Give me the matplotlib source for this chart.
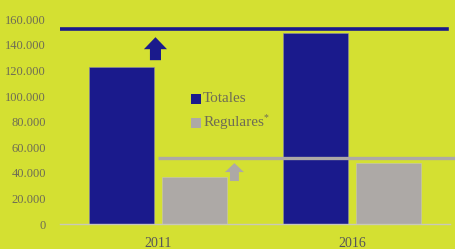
import matplotlib
matplotlib.use('Agg')
import matplotlib.pyplot as plt
from matplotlib.patches import FancyArrow

years = ['2011', '2016']
totales = [122600, 149000]
regulares = [37000, 48000]
ref_totales = 152300      # blue reference line
ref_regulares = 51500     # grey reference line
yticks = [0, 20000, 40000, 60000, 80000, 100000, 120000, 140000, 160000]
ytick_labels = ['0', '20.000', '40.000', '60.000', '80.000', '100.000',
                '120.000', '140.000', '160.000']

BG = '#D4E032'
BLUE = '#1A1A8C'
GREY = '#ADA9A6'
TXT = '#6E6C55'

plt.rcParams['font.family'] = ['Liberation Serif', 'DejaVu Serif']

fig = plt.figure(figsize=(4.56, 2.49), dpi=100, facecolor=BG)
ax = fig.add_axes([60/456, 25/249, 390/456, 204.6/249], facecolor=BG)

x = range(len(years))
w = 0.335
ax.bar([i - 0.188 for i in x], totales, w, color=BLUE, edgecolor='#8f8fa8', lw=0.4)
ax.bar([i + 0.188 for i in x], regulares, w, color=GREY, edgecolor='#c8c6b8', lw=0.4)

ax.axhline(ref_totales, xmin=0, xmax=0.992, color=BLUE, lw=2.6)
ax.hlines(ref_regulares, 0, 1.56, color=GREY, lw=2.4, clip_on=False)

# up arrows
ax.add_patch(FancyArrow(-0.013, 128100, 0, 18000, width=0.057, head_width=0.119,
                        head_length=9400, length_includes_head=True,
                        color=BLUE, lw=0))
ax.add_patch(FancyArrow(0.394, 33600, 0, 14000, width=0.046, head_width=0.098,
                        head_length=7000, length_includes_head=True,
                        color=GREY, lw=0))

# legend drawn by hand
ax.scatter([0.349], [0.611], marker='s', s=42, color=BLUE, transform=ax.transAxes,
           clip_on=False, lw=0, zorder=3)
ax.scatter([0.349], [0.494], marker='s', s=42, color=GREY, transform=ax.transAxes,
           clip_on=False, lw=0, zorder=3)
ax.text(0.367, 0.611, 'Totales', transform=ax.transAxes, fontsize=11,
        color=TXT, va='center', ha='left')
ax.text(0.367, 0.494, 'Regulares', transform=ax.transAxes, fontsize=11,
        color=TXT, va='center', ha='left')
ax.text(0.521, 0.522, '*', transform=ax.transAxes, fontsize=7,
        color=TXT, va='center', ha='left')

ax.set_xlim(-0.505, 1.505)
ax.set_ylim(0, 160000)
ax.set_xticks(list(x))
ax.set_xticklabels(years, fontsize=10, color='#55555a')
ax.set_yticks(yticks)
ax.set_yticklabels(ytick_labels, fontsize=9, color=TXT)
ax.tick_params(axis='both', length=0)
ax.tick_params(axis='y', pad=10)
ax.tick_params(axis='x', pad=9)
for s in ['top', 'right', 'left']:
    ax.spines[s].set_visible(False)
ax.spines['bottom'].set_color('#c9c9b8')
ax.spines['bottom'].set_linewidth(1)

fig.savefig('out.png', dpi=100, facecolor=BG)
